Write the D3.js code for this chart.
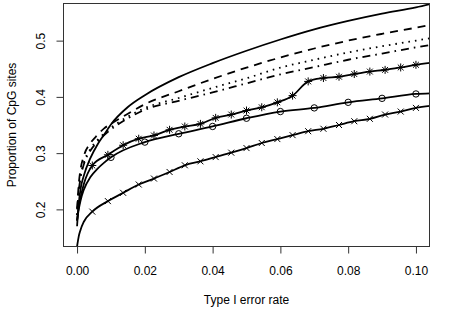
<!DOCTYPE html>
<html>
<head>
<meta charset="utf-8">
<script src="https://cdn.jsdelivr.net/npm/d3@7"></script>
<style>
  body { margin: 0; background: #fff; }
  svg { display: block; font-family: "Liberation Sans", Arial, Helvetica, sans-serif; }
</style>
</head>
<body>
<div id="chart"></div>
<script>
// values
var gridX     = [0, 0.0005, 0.001, 0.002, 0.004, 0.006, 0.008, 0.01, 0.015, 0.02, 0.03, 0.04, 0.05, 0.06, 0.07, 0.08, 0.09, 0.1, 0.105];
var solidY    = [0.17, 0.21, 0.235, 0.26, 0.292, 0.315, 0.333, 0.351, 0.382, 0.403, 0.435, 0.46, 0.482, 0.502, 0.52, 0.535, 0.548, 0.559, 0.566];
var dashedY   = [0.2, 0.245, 0.27, 0.295, 0.318, 0.332, 0.344, 0.352, 0.37, 0.387, 0.41, 0.432, 0.452, 0.47, 0.486, 0.5, 0.512, 0.523, 0.529];
var dottedY   = [0.19, 0.235, 0.258, 0.283, 0.308, 0.323, 0.335, 0.345, 0.365, 0.38, 0.398, 0.416, 0.433, 0.452, 0.466, 0.479, 0.49, 0.5, 0.505];
var dotdashY  = [0.19, 0.232, 0.255, 0.28, 0.305, 0.32, 0.332, 0.342, 0.362, 0.377, 0.393, 0.408, 0.424, 0.44, 0.453, 0.466, 0.477, 0.488, 0.493];

// lines with star and cross markers
var leadX      = [0, 0.0005, 0.001, 0.002];
var starLeadY  = [0.18, 0.205, 0.22, 0.245];
var crossLeadY = [0.134, 0.152, 0.163, 0.178];
var markX  = [0.0045, 0.0091, 0.0136, 0.0182, 0.0227, 0.0273, 0.0318, 0.0364, 0.0409, 0.0455, 0.05,
              0.0545, 0.0591, 0.0636, 0.0682, 0.0727, 0.0773, 0.0818, 0.0864, 0.0909, 0.0955, 0.1];
var starY  = [0.278, 0.297, 0.314, 0.3256, 0.3314, 0.3415, 0.3473, 0.352, 0.3627, 0.3686, 0.3757,
              0.3815, 0.3903, 0.4022, 0.4275, 0.4335, 0.4358, 0.4406, 0.445, 0.448, 0.4523, 0.457];
var crossY = [0.196, 0.2147, 0.2294, 0.2442, 0.2548, 0.2665, 0.2784, 0.2854, 0.293, 0.3008, 0.309,
              0.318, 0.325, 0.332, 0.339, 0.3433, 0.35, 0.3567, 0.361, 0.3686, 0.3739, 0.3804];
var endX = 0.105, starEndY = 0.461, crossEndY = 0.3845;

// line with circle markers
var circLeadX = [0, 0.0005, 0.001, 0.002, 0.004, 0.006, 0.008];
var circLeadY = [0.18, 0.2, 0.215, 0.235, 0.258, 0.272, 0.283];
var circX = [0.01, 0.02, 0.03, 0.04, 0.05, 0.06, 0.07, 0.08, 0.09, 0.1];
var circY = [0.2925, 0.3196, 0.3344, 0.3474, 0.362, 0.3739, 0.3804, 0.3903, 0.3974, 0.4052];
var circEndY = 0.4065;

var xTicks = [0, 0.02, 0.04, 0.06, 0.08, 0.10];
var yTicks = [0.2, 0.3, 0.4, 0.5];

var width = 462,
	height = 310,
	padL = 63.5, padR = 429.5, padT = 3.5, padB = 246.5;

var svg = d3.select("#chart").append("svg")
	.attr("width", width)
	.attr("height", height);

var x = d3.scaleLinear().domain([-0.004, 0.104]).range([padL, padR]);
var y = d3.scaleLinear().domain([0.134, 0.566]).range([padB, padT]);

svg.append("clipPath").attr("id", "clip")
	.append("rect")
	.attr("x", padL).attr("y", padT)
	.attr("width", padR - padL).attr("height", padB - padT);

var line = d3.line()
	.curve(d3.curveMonotoneX)
	.x(function(d) { return x(d[0]); })
	.y(function(d) { return y(d[1]); });

function zip(xs, ys) {
	return xs.map(function(v, i) { return [v, ys[i]]; });
}

var plot = svg.append("g").attr("clip-path", "url(#clip)");

var series = [
	{ pts: zip(gridX, solidY), dash: null },
	{ pts: zip(gridX, dashedY), dash: "8,6" },
	{ pts: zip(gridX, dottedY), dash: "1.6,5" },
	{ pts: zip(gridX, dotdashY), dash: "1.6,5,8,5" },
	{ pts: zip(leadX, starLeadY).concat(zip(markX, starY), [[endX, starEndY]]), dash: null },
	{ pts: zip(leadX, crossLeadY).concat(zip(markX, crossY), [[endX, crossEndY]]), dash: null },
	{ pts: zip(circLeadX, circLeadY).concat(zip(circX, circY), [[endX, circEndY]]), dash: null }
];

series.forEach(function(s) {
	plot.append("path")
		.attr("d", line(s.pts))
		.attr("fill", "none")
		.attr("stroke", "#000")
		.attr("stroke-width", 1.8)
		.attr("stroke-linejoin", "round")
		.attr("stroke-dasharray", s.dash);
});

// markers
var stars = zip(markX, starY),
	crosses = zip(markX, crossY),
	circles = zip(circX, circY);

plot.selectAll(".star").data(stars).enter().append("path")
	.attr("class", "star")
	.attr("transform", function(d) { return "translate(" + x(d[0]) + "," + y(d[1]) + ")"; })
	.attr("d", "M-4,0H4M0,-4V4M-2.9,-2.9L2.9,2.9M-2.9,2.9L2.9,-2.9")
	.attr("stroke", "#000").attr("stroke-width", 1).attr("fill", "none");

plot.selectAll(".cross").data(crosses).enter().append("path")
	.attr("class", "cross")
	.attr("transform", function(d) { return "translate(" + x(d[0]) + "," + y(d[1]) + ")"; })
	.attr("d", "M-3,-3L3,3M-3,3L3,-3")
	.attr("stroke", "#000").attr("stroke-width", 1).attr("fill", "none");

plot.selectAll(".circ").data(circles).enter().append("circle")
	.attr("class", "circ")
	.attr("cx", function(d) { return x(d[0]); })
	.attr("cy", function(d) { return y(d[1]); })
	.attr("r", 3.2)
	.attr("stroke", "#000").attr("stroke-width", 1).attr("fill", "none");

// box and axes
svg.append("rect")
	.attr("x", padL).attr("y", padT)
	.attr("width", padR - padL).attr("height", padB - padT)
	.attr("fill", "none").attr("stroke", "#333").attr("stroke-width", 1);

var xAxis = svg.append("g")
	.attr("transform", "translate(0," + padB + ")")
	.call(d3.axisBottom(x).tickValues(xTicks).tickFormat(d3.format(".2f")).tickSize(7));

var yAxis = svg.append("g")
	.attr("transform", "translate(" + padL + ",0)")
	.call(d3.axisLeft(y).tickValues(yTicks).tickFormat(d3.format(".1f")).tickSize(7));

[xAxis, yAxis].forEach(function(a) {
	a.select(".domain").remove();
	a.selectAll("line").attr("stroke", "#333");
	a.selectAll("text").attr("fill", "#000").style("font-size", "12px")
		.style("font-family", "'Liberation Sans', Arial, sans-serif");
});

xAxis.selectAll("text").attr("dy", null).attr("y", 28.5);

// tick groups are already translated to their y position
yAxis.selectAll("text")
	.attr("x", null).attr("dy", null)
	.attr("text-anchor", "middle")
	.attr("transform", "translate(" + (45 - padL) + ",0) rotate(-90)")
	.attr("y", 0);

svg.append("text")
	.attr("x", (padL + padR) / 2).attr("y", 303.5)
	.attr("text-anchor", "middle")
	.style("font-size", "12px")
	.text("Type I error rate");

svg.append("text")
	.attr("transform", "translate(15.5," + ((padT + padB) / 2) + ") rotate(-90)")
	.attr("text-anchor", "middle")
	.style("font-size", "12px")
	.text("Proportion of CpG sites");
</script>
</body>
</html>
